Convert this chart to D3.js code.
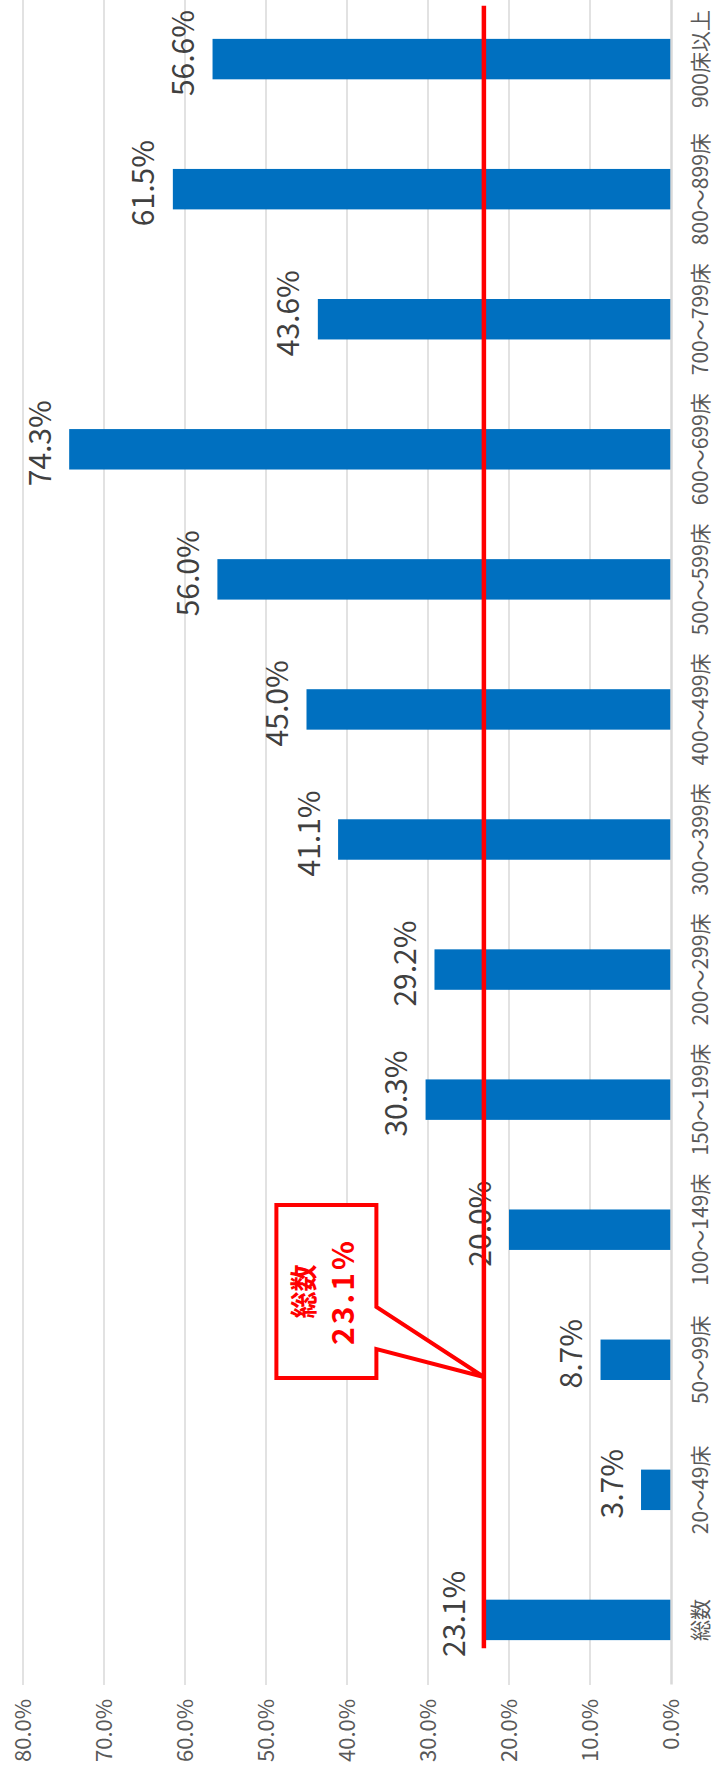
<!DOCTYPE html>
<html>
<head>
<meta charset="utf-8">
<script src="https://cdn.jsdelivr.net/npm/d3@7"></script>
<style>
  body { margin: 0; background: #fff; }
  svg { display: block; font-family: "Noto Sans CJK JP", "Noto Sans", sans-serif; }
</style>
</head>
<body>
<svg width="714" height="1776"></svg>
<script>
const categories = ['総数', '20～49床', '50～99床', '100～149床', '150～199床', '200～299床',
  '300～399床', '400～499床', '500～599床', '600～699床', '700～799床', '800～899床', '900床以上'];
const values = [0.231, 0.037, 0.087, 0.200, 0.303, 0.292, 0.411, 0.450, 0.560, 0.743, 0.436, 0.615, 0.566];
const average = 0.231;
const averageLabel = ['総数', '23.1%'];
const tickValues = [0, 0.1, 0.2, 0.3, 0.4, 0.5, 0.6, 0.7, 0.8];

// the chart is drawn as a column chart, then turned a quarter to the left
const W = 1776, H = 714;
const margin = { left: 91, right: -6, top: 23, bottom: 43 };

const svg = d3.select('svg');
const g = svg.append('g')
  .attr('transform', `translate(0,${W}) rotate(-90)`);

const x = d3.scaleBand()
  .domain(categories)
  .range([margin.left, W - margin.right])
  .paddingInner(0.689)
  .paddingOuter(0.345);

const y = d3.scaleLinear()
  .domain([0, 0.8])
  .range([H - margin.bottom, margin.top]);

const fmt = d3.format('.1%');

// gridlines
g.append('g').selectAll('line')
  .data(tickValues.slice(1))
  .join('line')
  .attr('x1', margin.left)
  .attr('x2', W - margin.right)
  .attr('y1', d => y(d))
  .attr('y2', d => y(d))
  .attr('stroke', '#d9d9d9')
  .attr('stroke-width', 1.5);

// value axis labels
const yAxis = g.append('g')
  .attr('transform', `translate(${margin.left},0)`)
  .call(d3.axisLeft(y).tickValues(tickValues).tickFormat(fmt).tickSize(0).tickPadding(14));
yAxis.select('.domain').remove();
yAxis.selectAll('text')
  .attr('font-size', 22)
  .attr('font-family', '"Noto Sans CJK JP", sans-serif')
  .attr('fill', '#595959')
  .attr('dy', '0.36em');

// bars
g.append('g').selectAll('rect')
  .data(values)
  .join('rect')
  .attr('x', (d, i) => x(categories[i]))
  .attr('width', x.bandwidth())
  .attr('y', d => y(d))
  .attr('height', d => y(0) - y(d))
  .attr('fill', '#0070c0');

// category axis
const xAxis = g.append('g')
  .attr('transform', `translate(0,${y(0)})`)
  .call(d3.axisBottom(x).tickSize(0).tickSizeOuter(0));
xAxis.select('.domain')
  .attr('stroke', '#d9d9d9')
  .attr('stroke-width', 2.5);
xAxis.selectAll('text')
  .attr('font-size', 21)
  .attr('font-family', '"Noto Sans CJK JP", sans-serif')
  .attr('fill', '#595959')
  .attr('y', 37)
  .attr('dy', null);

// value labels
g.append('g').selectAll('text')
  .data(values)
  .join('text')
  .attr('x', (d, i) => x(categories[i]) + x.bandwidth() / 2 + 6)
  .attr('y', d => y(d) - 18.5)
  .attr('text-anchor', 'middle')
  .attr('font-size', 30)
  .attr('fill', '#404040')
  .text(d => fmt(d));

// average line
g.append('line')
  .attr('x1', x(categories[0]) - 8)
  .attr('x2', x(categories[categories.length - 1]) + x.bandwidth() + 33)
  .attr('y1', y(average))
  .attr('y2', y(average))
  .attr('stroke', '#ff0000')
  .attr('stroke-width', 4.5);

// callout pointing at the average line
const tipX = x(categories[2]) + 3;
const tipY = y(average);
const box = { left: tipX - 1, right: tipX + 172, top: tipY - 207.5, bottom: tipY - 107.5 };
const callout = g.append('g');
callout.append('path')
  .attr('d', `M${box.left},${box.top}H${box.right}V${box.bottom}H${tipX + 70}L${tipX},${tipY}L${tipX + 28},${box.bottom}H${box.left}Z`)
  .attr('fill', '#fff')
  .attr('stroke', '#ff0000')
  .attr('stroke-width', 4)
  .attr('stroke-linejoin', 'miter');
const cx = (box.left + box.right) / 2;
callout.append('text')
  .attr('x', cx)
  .attr('y', box.top + 37.5)
  .attr('text-anchor', 'middle')
  .attr('font-size', 27)
  .attr('font-weight', 'bold')
  .attr('fill', '#ff0000')
  .text(averageLabel[0]);
callout.append('text')
  .attr('x', cx)
  .attr('y', box.top + 77.5)
  .attr('text-anchor', 'middle')
  .attr('font-size', 30)
  .attr('font-weight', 'bold')
  .attr('letter-spacing', 3)
  .attr('fill', '#ff0000')
  .text(averageLabel[1]);
</script>
</body>
</html>
